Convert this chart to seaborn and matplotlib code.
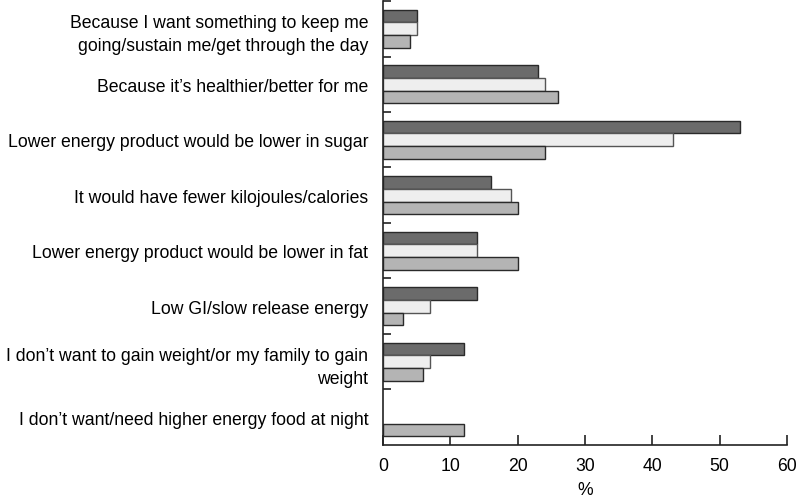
import matplotlib
matplotlib.use("Agg")
import matplotlib.pyplot as plt
import seaborn as sns
import pandas as pd
import numpy as np
from matplotlib.ticker import FixedLocator

categories = [
    "Because I want something to keep me\ngoing/sustain me/get through the day",
    "Because it\u2019s healthier/better for me",
    "Lower energy product would be lower in sugar",
    "It would have fewer kilojoules/calories",
    "Lower energy product would be lower in fat",
    "Low GI/slow release energy",
    "I don\u2019t want to gain weight/or my family to gain\nweight",
    "I don\u2019t want/need higher energy food at night",
]
series_names = ["Series 1", "Series 2", "Series 3"]
series1 = [5, 23, 53, 16, 14, 14, 12, 0]
series2 = [5, 24, 43, 19, 14, 7, 7, 0]
series3 = [4, 26, 24, 20, 20, 3, 6, 12]
x_ticks = [0, 10, 20, 30, 40, 50, 60]

rows = []
for name, vals in zip(series_names, [series1, series2, series3]):
    for c, v in zip(categories, vals):
        rows.append({"category": c, "series": name, "value": v})
df = pd.DataFrame(rows)

sns.set_theme(style="white")
plt.rcParams["font.family"] = ["Liberation Sans", "DejaVu Sans"]

fig = plt.figure(figsize=(7.96, 5.02), dpi=100)
ax = fig.add_axes([0.4812, 0.1116, 0.5075, 0.8844])

palette = ["#6b6b6b", "#eeeeee", "#b4b4b4"]
sns.barplot(data=df, y="category", x="value", hue="series", orient="h",
            palette=palette, width=0.68, ax=ax, legend=False,
            edgecolor="#2a2a2a", linewidth=1.0, saturation=1)
# lighter edge for white bars; hide zero-width bars
for i, cont in enumerate(ax.containers):
    for p in cont:
        if i == 1:
            p.set_edgecolor("#555555")
        if p.get_width() == 0:
            p.set_visible(False)

ax.set_xlim(0, 60)
ax.set_ylim(len(categories) - 0.5, -0.5)
ax.set_xticks(x_ticks)
ax.set_xlabel("%", fontsize=12.7, labelpad=5, color="black")
ax.set_ylabel("")

for s in ["top", "right"]:
    ax.spines[s].set_visible(False)
for s in ["left", "bottom"]:
    ax.spines[s].set_color("#222222")
    ax.spines[s].set_linewidth(1.2)

ax.tick_params(axis="x", direction="in", length=7, width=1.2, colors="#222222",
               labelsize=12.7, labelcolor="black", pad=8.5, bottom=True)
ax.tick_params(axis="y", which="major", length=0, labelsize=12.7,
               labelcolor="black", pad=10.5)
ax.yaxis.set_minor_locator(FixedLocator(np.arange(-0.5, len(categories) - 0.5, 1.0)))
ax.tick_params(axis="y", which="minor", direction="in", length=6, width=1.2,
               colors="#222222", left=True)
ax.set_yticklabels(categories, ha="right", multialignment="right", linespacing=1.45)

fig.savefig("out.png", dpi=100)
